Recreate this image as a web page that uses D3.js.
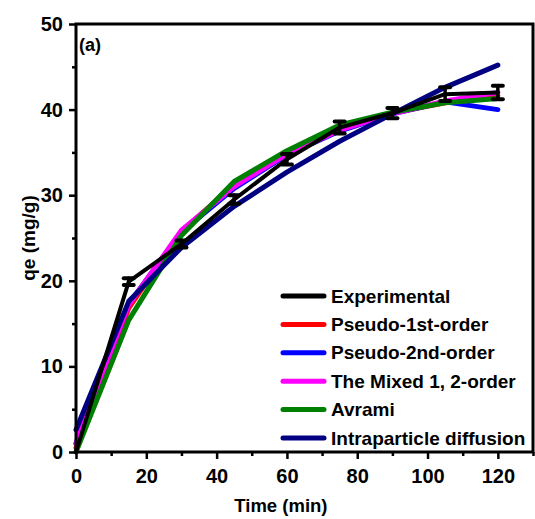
<!DOCTYPE html>
<html><head><meta charset="utf-8">
<script src="https://cdn.jsdelivr.net/npm/d3@7"></script>
<style>html,body{margin:0;padding:0;background:#fff;}svg{display:block;}</style>
</head><body>
<svg id="c" width="535" height="519"></svg>
<script>
// Data
const times = [0, 15, 30, 45, 60, 75, 90, 105, 120];
const experimental = [0, 19.9, 24.3, 29.5, 34.2, 37.9, 39.6, 41.8, 42.0];
const expError = [0, 0.4, 0.4, 0.5, 0.6, 0.7, 0.6, 0.8, 0.8];
const pseudo1st = [0.5, 16.8, 25.8, 31.2, 35.0, 37.8, 39.6, 40.8, 41.6];
const pseudo2nd = [1.0, 17.3, 25.7, 30.8, 34.7, 37.5, 39.5, 40.9, 40.0];
const mixed12 = [1.0, 17.2, 25.9, 31.0, 34.8, 37.6, 39.5, 41.0, 42.0];
const avrami = [0, 15.4, 25.3, 31.6, 35.2, 38.2, 39.7, 40.8, 41.3];
const intraparticle = [2.6, 17.6, 23.9, 28.7, 32.7, 36.3, 39.5, 42.6, 45.2];
const xTicks = [0, 20, 40, 60, 80, 100, 120];
const yTicks = [0, 10, 20, 30, 40, 50];
const legendNames = ["Experimental", "Pseudo-1st-order", "Pseudo-2nd-order", "The Mixed 1, 2-order", "Avrami", "Intraparticle diffusion"];
const legendColors = ["#000000", "#ff0000", "#0000ff", "#ff00ff", "#008000", "#000080"];

const svg = d3.select("#c");
const L = 76, R = 533, T = 24, B = 452;
const x = d3.scaleLinear().domain([0, 130]).range([L, R]);
const y = d3.scaleLinear().domain([0, 50]).range([B, T]);
const FONT = "'Liberation Sans', Arial, sans-serif";

// model curves
const curves = [
  {v: pseudo1st, c: legendColors[1]},
  {v: pseudo2nd, c: legendColors[2]},
  {v: mixed12, c: legendColors[3]},
  {v: avrami, c: legendColors[4]},
  {v: intraparticle, c: legendColors[5]}
];
const line = d3.line().x(d => x(d[0])).y(d => y(d[1]));
curves.forEach(cv => {
  svg.append("path")
    .attr("d", line(times.map((t, i) => [t, cv.v[i]])))
    .attr("fill", "none").attr("stroke", cv.c).attr("stroke-width", 5)
    .attr("stroke-linejoin", "round").attr("stroke-linecap", "round");
});
// experimental
svg.append("path")
  .attr("d", line(times.map((t, i) => [t, experimental[i]])))
  .attr("fill", "none").attr("stroke", "#000").attr("stroke-width", 4)
  .attr("stroke-linejoin", "round").attr("stroke-linecap", "round");
const eb = svg.append("g").attr("stroke", "#000").attr("stroke-linecap", "round");
times.forEach((t, i) => {
  if (expError[i] <= 0) return;
  const cx = x(t), y1 = y(experimental[i] - expError[i]), y2 = y(experimental[i] + expError[i]);
  eb.append("line").attr("x1", cx).attr("x2", cx).attr("y1", y1).attr("y2", y2).attr("stroke-width", 3.5);
  [y1, y2].forEach(yy => eb.append("line").attr("x1", cx - 5).attr("x2", cx + 5)
    .attr("y1", yy).attr("y2", yy).attr("stroke-width", 4));
});

// frame
svg.append("rect").attr("x", L).attr("y", T).attr("width", R - L).attr("height", B - T)
  .attr("fill", "none").attr("stroke", "#000").attr("stroke-width", 3);

// axes
const xAxis = d3.axisBottom(x).tickValues(xTicks).tickSize(7).tickPadding(7);
const gx = svg.append("g").attr("transform", `translate(0,${B})`).call(xAxis);
const yAxis = d3.axisLeft(y).tickValues(yTicks).tickSize(7).tickPadding(6);
const gy = svg.append("g").attr("transform", `translate(${L},0)`).call(yAxis);
[gx, gy].forEach(g => {
  g.select(".domain").remove();
  g.selectAll(".tick line").attr("stroke", "#000").attr("stroke-width", 2.5);
  g.selectAll("text").attr("font-family", FONT).attr("font-weight", "bold")
    .attr("font-size", 20).attr("fill", "#000");
});
gx.selectAll("text").attr("dy", "0.85em");
// minor ticks
const gxm = svg.append("g").attr("transform", `translate(0,${B})`)
  .call(d3.axisBottom(x).tickValues(d3.range(10, 131, 20)).tickSize(4).tickFormat(""));
const gym = svg.append("g").attr("transform", `translate(${L},0)`)
  .call(d3.axisLeft(y).tickValues(d3.range(5, 50, 10)).tickSize(4).tickFormat(""));
[gxm, gym].forEach(g => {
  g.select(".domain").remove();
  g.selectAll(".tick line").attr("stroke", "#000").attr("stroke-width", 2.5);
});

// axis titles
svg.append("text").attr("x", x(60) - 6).attr("y", 512).attr("text-anchor", "middle")
  .attr("font-family", FONT).attr("font-weight", "bold").attr("font-size", 18.5).text("Time (min)");
svg.append("text").attr("transform", `translate(35,${(T + B) / 2}) rotate(-90)`)
  .attr("text-anchor", "middle").attr("font-family", FONT).attr("font-weight", "bold")
  .attr("font-size", 19).text("qe (mg/g)");
svg.append("text").attr("x", 79).attr("y", 51).attr("font-family", FONT)
  .attr("font-weight", "bold").attr("font-size", 18).text("(a)");

// legend
const lg = svg.append("g");
legendNames.forEach((n, i) => {
  const yy = 296 + i * 28.4;
  lg.append("line").attr("x1", 283).attr("x2", 324).attr("y1", yy).attr("y2", yy)
    .attr("stroke", legendColors[i]).attr("stroke-width", 5).attr("stroke-linecap", "round");
  lg.append("text").attr("x", 331).attr("y", yy).attr("dy", "0.35em")
    .attr("font-family", FONT).attr("font-weight", "bold").attr("font-size", 19).text(n);
});
</script>
</body></html>
